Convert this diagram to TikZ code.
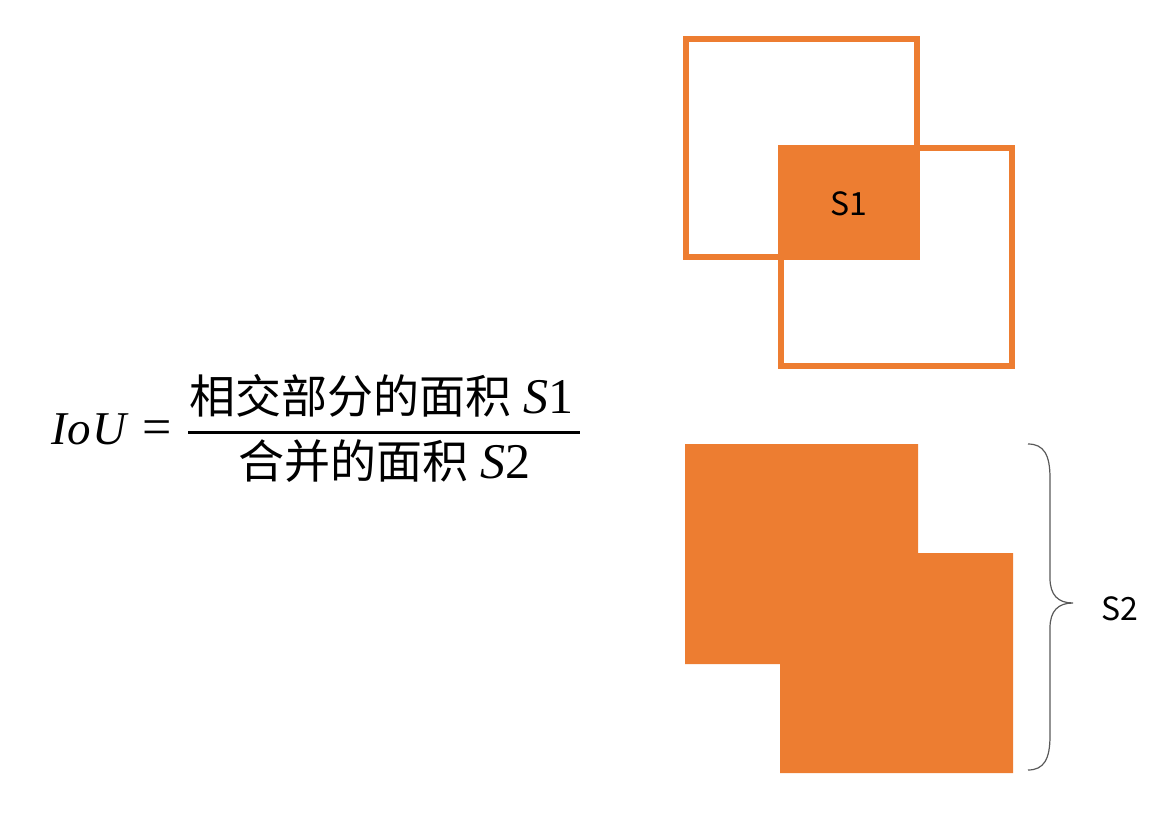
\documentclass[tikz,border=0pt]{standalone}
\usepackage{fontspec}
\setmainfont{Noto Sans CJK SC}
\newfontfamily\cjk{Noto Sans CJK SC}
\newfontfamily\mathser{Liberation Serif}
\newcommand{\mvar}[1]{{\mathser\itshape\fontsize{50}{54}\selectfont #1}}
\newcommand{\mnum}[1]{{\mathser\fontsize{50}{54}\selectfont #1}}
\definecolor{boxorange}{HTML}{ED7D31}
\definecolor{bracegray}{HTML}{595959}
\begin{document}
\begin{tikzpicture}[x=1pt,y=-1pt,
  outlinebox/.style={draw=boxorange,line width=6pt},
  fillbox/.style={fill=boxorange,draw=none},
  formtext/.style={inner sep=0pt,anchor=base west,font=\fontsize{46}{50}\selectfont},
  labeltext/.style={inner sep=0pt,font=\cjk\fontsize{32}{36}\selectfont}]
\useasboundingbox (0,0) rectangle (1171,822);
% top: two boxes and intersection
\draw[outlinebox] (686,39) rectangle (917,257);
\draw[outlinebox] (781,148) rectangle (1012,366);
\fill[fillbox] (778,145) rectangle (920,260);
\node[labeltext] (s1) at (849,204) {S1};
% bottom: union shape
\fill[fillbox] (685,444) -- (918,444) -- (918,553) -- (1013,553) -- (1013,773)
  -- (780,773) -- (780,664) -- (685,664) -- cycle;
% brace
\coordinate (bt) at (1028,444);
\coordinate (bb) at (1028,770);
\coordinate (tip) at (1073,603);
\draw[bracegray,line width=1.2pt]
  (bt) .. controls (1044,444) and (1050,455) .. (1050,478)
  -- (1050,578) .. controls (1050,595) and (1058,603) .. (tip)
  .. controls (1058,603) and (1050,611) .. (1050,628)
  -- (1050,736) .. controls (1050,759) and (1044,770) .. (bb);
\node[labeltext,anchor=west] (s2) at (1101,609) {S2};
% formula
\node[formtext] (iou) at (51,444) {{\mathser\itshape\fontsize{47}{50}\selectfont I\kern1pt o\kern1pt U}};
\node[formtext] (eq) at (142,444) {\mathser\fontsize{52}{52}\selectfont =};
\node[formtext] (num) at (189,413) {\cjk 相交部分的面积\hspace{12pt}\mvar{S}\mnum{1}};
\node[formtext] (den) at (238,478) {\cjk 合并的面积\hspace{12pt}\mvar{S}\mnum{2}};
\coordinate (barl) at (188,432);
\coordinate (barr) at (580,432);
\draw[line width=3pt] (barl) -- (barr);
\end{tikzpicture}
\end{document}
